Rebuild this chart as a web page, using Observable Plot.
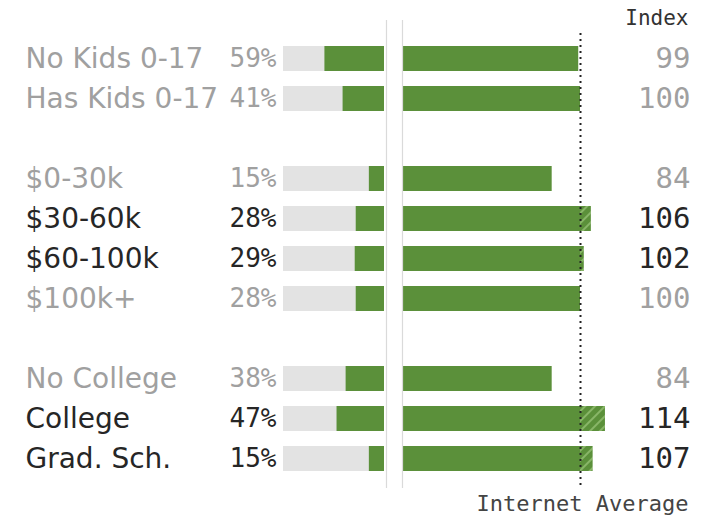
<!DOCTYPE html>
<html><head><meta charset="utf-8">
<script src="https://cdn.jsdelivr.net/npm/d3@7"></script>
<script src="https://cdn.jsdelivr.net/npm/@observablehq/plot@0.6"></script>
<style>
html,body{margin:0;padding:0;background:#fff;}
#chart{position:relative;width:706px;height:519px;}
#chart svg{position:absolute;left:0;top:0;background:transparent;}
</style></head><body><div id="chart"></div>
<script>
const categories = ["No Kids 0-17","Has Kids 0-17","$0-30k","$30-60k","$60-100k","$100k+","No College","College","Grad. Sch."];
const sharePct = [59,41,15,28,29,28,38,47,15];
const indexValues = [99,100,84,106,102,100,84,114,107];
const internetAverage = 100;
const rowOrder = ["No Kids 0-17","Has Kids 0-17"," gap1","$0-30k","$30-60k","$60-100k","$100k+"," gap2","No College","College","Grad. Sch."];
const headerLabel = "Index";
const footerLabel = "Internet Average";

const green = "#5b903a";
const greyBar = "#e3e3e3";
const dark = "#262626";
const light = "#a0a0a0";

const rows = categories.map((c, i) => ({
  label: c, pct: sharePct[i], index: indexValues[i],
  col: indexValues[i] > internetAverage ? dark : light
}));

const W = 706, H = 519;
const common = {
  width: W, height: H, marginTop: 20, marginBottom: 31, marginLeft: 25, marginRight: 16,
  style: {background: "transparent"},
  color: {type: "identity"}
};
const yScale = {domain: rowOrder, range: [38, 478], paddingInner: 0.375, paddingOuter: 0.1875, axis: null};

const defs = () => {
  const ns = "http://www.w3.org/2000/svg";
  const g = document.createElementNS(ns, "defs");
  g.innerHTML = `<pattern id="hatch" patternUnits="userSpaceOnUse" width="7" height="7" patternTransform="rotate(45)"><rect width="7" height="7" fill="${green}"/><line x1="1" y1="0" x2="1" y2="7" stroke="#a6cf86" stroke-width="1.2"/></pattern>`;
  return g;
};

const left = Plot.plot({
  ...common,
  x: {domain: [0, 100], range: [384, 283], axis: null},
  y: yScale,
  marks: [
    Plot.barX(rows, {y: "label", x1: 0, x2: 100, fill: greyBar}),
    Plot.barX(rows, {y: "label", x1: 0, x2: "pct", fill: green}),
    Plot.ruleX([0], {dx: 2, stroke: "#dadada", strokeWidth: 1.2}),
    Plot.text(rows, {y: "label", frameAnchor: "left", text: "label", textAnchor: "start",
      fill: "col", fontSize: 28, fontFamily: "DejaVu Sans"}),
    Plot.text(rows, {y: "label", x: 100, dx: -7, text: d => d.pct + "%", textAnchor: "end",
      fill: "col", fontSize: 26, fontFamily: "DejaVu Sans Mono"})
  ]
});

const right = Plot.plot({
  ...common,
  x: {domain: [0, 100], range: [403, 580], axis: null},
  y: yScale,
  marks: [
    defs,
    Plot.barX(rows, {y: "label", x1: 0, x2: "index", fill: green}),
    Plot.barX(rows.filter(d => d.index > internetAverage), {y: "label", x1: internetAverage, x2: "index", fill: "url(#hatch)"}),
    Plot.ruleX([0], {dx: -1, stroke: "#dadada", strokeWidth: 1.2}),
    Plot.ruleX([internetAverage], {stroke: "#222", strokeWidth: 2, strokeDasharray: "2,4", insetTop: 13}),
    Plot.text(rows, {y: "label", frameAnchor: "right", text: d => String(d.index), textAnchor: "end",
      fill: "col", fontSize: 29, fontFamily: "DejaVu Sans Mono"}),
    Plot.text([headerLabel], {frameAnchor: "top-right", dx: -2, dy: -2, lineAnchor: "middle", textAnchor: "end",
      fill: "#333", fontSize: 21, fontFamily: "DejaVu Sans Mono"}),
    Plot.text([footerLabel], {frameAnchor: "bottom-right", dx: -2, dy: 15, lineAnchor: "middle", textAnchor: "end",
      fill: "#444", fontSize: 22, fontFamily: "DejaVu Sans Mono"})
  ]
});

const el = document.getElementById("chart");
el.appendChild(left);
el.appendChild(right);
</script>
</body></html>
